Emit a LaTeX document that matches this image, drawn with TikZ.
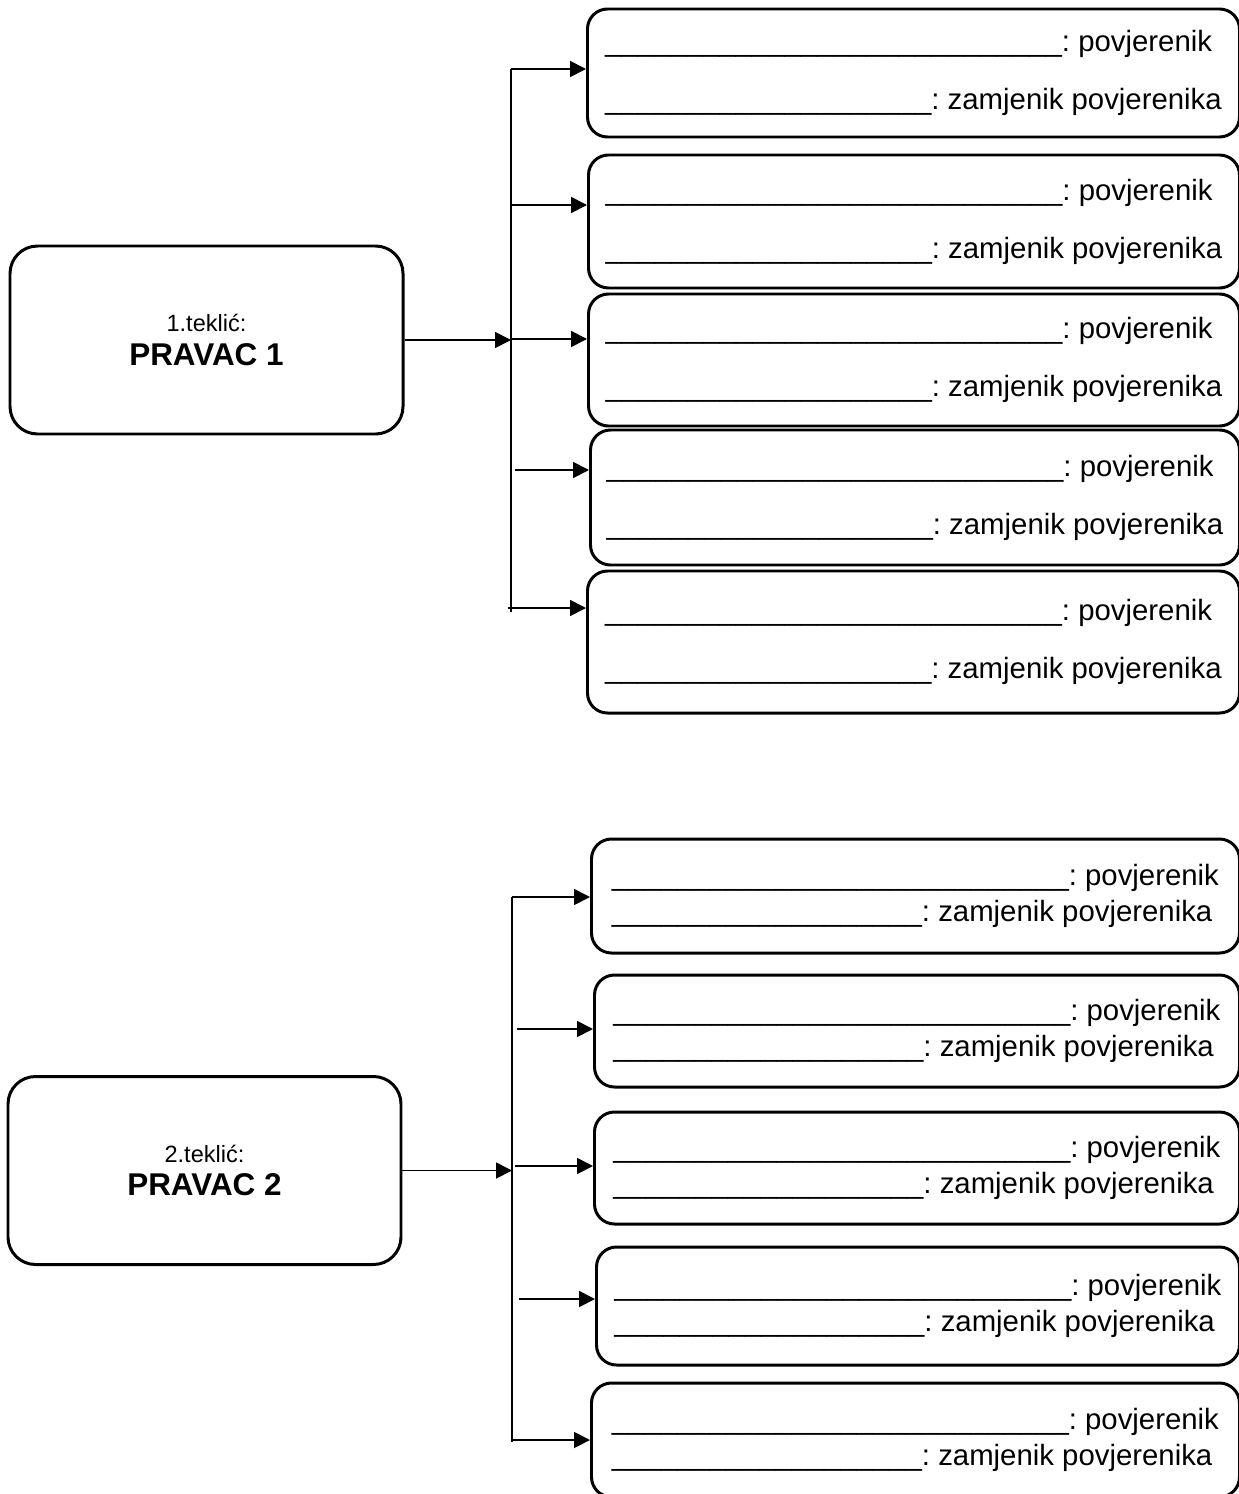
\documentclass[tikz,border=0pt]{standalone}
\usepackage{fontspec}
\setmainfont{Liberation Sans}
\usetikzlibrary{arrows.meta}
\frenchspacing
\ExplSyntaxOn
\NewDocumentCommand{\crta}{m}{\prg_replicate:nn{#1}{\_}}
\ExplSyntaxOff

\begin{document}
\begin{tikzpicture}[
    pravac/.style={draw, line width=1.7pt, rounded corners=0.55cm,
      minimum width=7.86cm, minimum height=3.76cm, align=center,
      font=\fontsize{13.4}{19}\selectfont},
    clan/.style={draw, line width=1.7pt, rounded corners=0.4cm, anchor=west,
      inner sep=0pt, align=left},
    siroki/.style={clan, font=\fontsize{16.7}{33}\selectfont},
    uski/.style={clan, font=\fontsize{16.7}{20.5}\selectfont},
    grana/.style={line width=1pt},
    strelica/.style={line width=1pt, -{Triangle[length=0.32cm, width=0.32cm]}},
  ]
    \useasboundingbox (0, 0) rectangle (24.78, -29.88);

    % prvi teklic
    \node[pravac] (pravac1) at (4.13, -6.80)
      {1.teklić:\\{\fontsize{17.9}{19}\selectfont\bfseries PRAVAC 1}};
    \node[siroki, minimum width=13.04cm, minimum height=2.56cm] (a1) at (11.72, -1.46)
      {\crta{28}: povjerenik\\\crta{20}: zamjenik povjerenika};
    \node[siroki, minimum width=13.02cm, minimum height=2.66cm] (a2) at (11.74, -4.43)
      {\crta{28}: povjerenik\\\crta{20}: zamjenik povjerenika};
    \node[siroki, minimum width=13.02cm, minimum height=2.64cm] (a3) at (11.74, -7.20)
      {\crta{28}: povjerenik\\\crta{20}: zamjenik povjerenika};
    \node[siroki, minimum width=12.98cm, minimum height=2.70cm] (a4) at (11.78, -9.95)
      {\crta{28}: povjerenik\\\crta{20}: zamjenik povjerenika};
    \node[siroki, minimum width=13.04cm, minimum height=2.84cm] (a5) at (11.72, -12.84)
      {\crta{28}: povjerenik\\\crta{20}: zamjenik povjerenika};

    \coordinate (s1top) at (10.22, -1.38);
    \coordinate (s1bot) at (10.22, -12.24);
    \coordinate (a1s) at (10.22, -1.38);
    \coordinate (a2s) at (10.24, -4.10);
    \coordinate (a3s) at (10.24, -6.78);
    \coordinate (a4s) at (10.30, -9.40);
    \coordinate (a5s) at (10.16, -12.16);

    \draw[grana] (s1top) -- (s1bot);
    \draw[strelica] (pravac1.east) -- (pravac1.east -| s1top);
    \draw[strelica] (a1s) -- (a1s -| a1.west);
    \draw[strelica] (a2s) -- (a2s -| a2.west);
    \draw[strelica] (a3s) -- (a3s -| a3.west);
    \draw[strelica] (a4s) -- (a4s -| a4.west);
    \draw[strelica] (a5s) -- (a5s -| a5.west);

    % drugi teklic
    \node[pravac] (pravac2) at (4.09, -23.41)
      {2.teklić:\\{\fontsize{17.9}{19}\selectfont\bfseries PRAVAC 2}};
    \node[uski, minimum width=12.96cm, minimum height=2.28cm] (b1) at (11.80, -17.92)
      {\crta{28}: povjerenik\\\crta{19}: zamjenik povjerenika};
    \node[uski, minimum width=12.90cm, minimum height=2.24cm] (b2) at (11.86, -20.62)
      {\crta{28}: povjerenik\\\crta{19}: zamjenik povjerenika};
    \node[uski, minimum width=12.90cm, minimum height=2.24cm] (b3) at (11.86, -23.36)
      {\crta{28}: povjerenik\\\crta{19}: zamjenik povjerenika};
    \node[uski, minimum width=12.86cm, minimum height=2.36cm] (b4) at (11.90, -26.12)
      {\crta{28}: povjerenik\\\crta{19}: zamjenik povjerenika};
    \node[uski, minimum width=12.96cm, minimum height=2.28cm] (b5) at (11.80, -28.80)
      {\crta{28}: povjerenik\\\crta{19}: zamjenik povjerenika};

    \coordinate (s2top) at (10.24, -17.94);
    \coordinate (s2bot) at (10.24, -28.84);
    \coordinate (b1s) at (10.24, -17.94);
    \coordinate (b2s) at (10.34, -20.58);
    \coordinate (b3s) at (10.30, -23.32);
    \coordinate (b4s) at (10.38, -25.98);
    \coordinate (b5s) at (10.22, -28.80);

    \draw[grana] (s2top) -- (s2bot);
    \draw[strelica] (pravac2.east) -- (pravac2.east -| s2top);
    \draw[strelica] (b1s) -- (b1s -| b1.west);
    \draw[strelica] (b2s) -- (b2s -| b2.west);
    \draw[strelica] (b3s) -- (b3s -| b3.west);
    \draw[strelica] (b4s) -- (b4s -| b4.west);
    \draw[strelica] (b5s) -- (b5s -| b5.west);
\end{tikzpicture}
\end{document}
